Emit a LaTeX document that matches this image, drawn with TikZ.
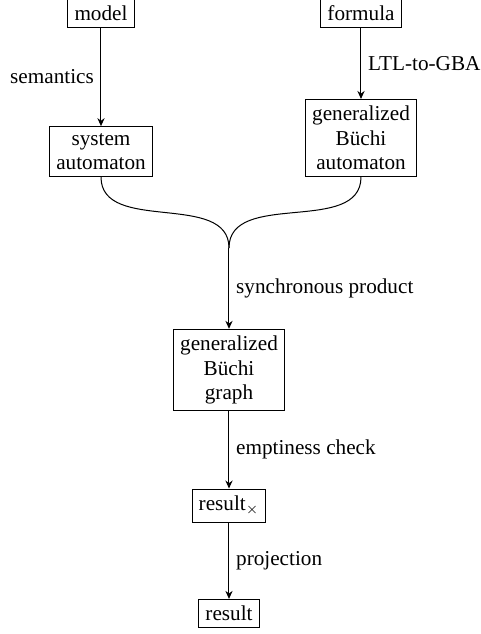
\documentclass[tikz,border=0pt]{standalone}
\usepackage{fontspec}
\setmainfont{Liberation Serif}
\usetikzlibrary{arrows.meta}

\begin{document}
\begin{tikzpicture}[x=1pt,y=1pt,line width=0.5pt,
        >={Stealth[length=4pt,width=3.6pt,inset=1.3pt]},
        font=\fontsize{10.6}{12.2}\selectfont,
        box/.style={draw,align=center}]
    \useasboundingbox (0,0) rectangle (240.5,-317);
    \node[box] (model) at (50.5,-6.5) {model};
    \node[box] (formula) at (180.5,-6.5) {formula};
    \node[box,anchor=south] (sysaut) at (50.5,-88.5) {system\\automaton};
    \node[box,anchor=south] (gba) at (180.5,-88.5) {generalized\\B\"uchi\\automaton};
    \coordinate (merge) at (114.5,-124);
    \node[box] (gbg) at (114.5,-185) {generalized\\B\"uchi\\graph};
    \node[box] (resprod) at (114.5,-252.75) {result$_\times$};
    \node[box] (result) at (114.5,-306.75) {result};
    \draw[->] (model) -- node[left]{semantics} (sysaut);
    \draw[->] (formula) -- node[right]{LTL-to-GBA} (gba);
    \draw (sysaut.south) to[out=-90,in=90] (merge);
    \draw (gba.south) to[out=-90,in=90] (merge);
    \draw[->] (merge) -- node[right]{synchronous product} (gbg);
    \draw[->] (gbg) -- node[right]{emptiness check} (resprod);
    \draw[->] (resprod) -- node[right]{projection} (result);
\end{tikzpicture}
\end{document}
